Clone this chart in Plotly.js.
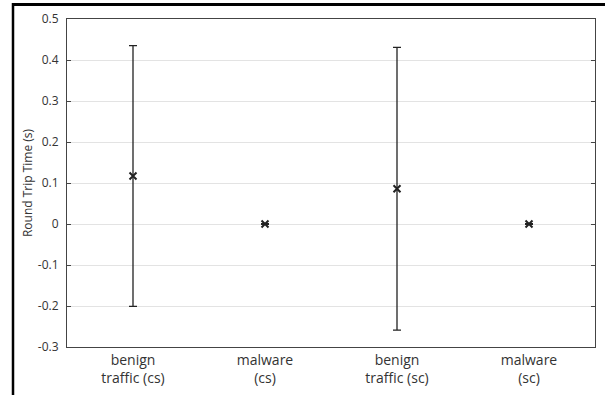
<!DOCTYPE html>
<html>
<head>
<meta charset="utf-8">
<script src="https://cdn.plot.ly/plotly-3.0.1.min.js"></script>
<style>
html,body{margin:0;padding:0;background:#fff;overflow:hidden;}
#chart{width:605px;height:395px;}
</style>
</head>
<body>
<div id="chart"></div>
<script>
const categories = ["benign<br>traffic (cs)", "malware<br>(cs)", "benign<br>traffic (sc)", "malware<br>(sc)"];
const means = [0.117, 0.0, 0.086, 0.0];
const stdDevs = [0.318, 0.001, 0.345, 0.001];
const yTickVals = [-0.3, -0.2, -0.1, 0, 0.1, 0.2, 0.3, 0.4, 0.5];
const yTickText = ["-0.3", "-0.2", "-0.1", "0", "0.1", "0.2", "0.3", "0.4", "0.5"];

const font = "Open Sans, Lato, sans-serif";
const W = 605, H = 395, ML = 67, MR = 10, MT = 19, MB = 48;
const pw = W - ML - MR, ph = H - MT - MB;
const fx = px => (px - ML) / pw;
const fy = py => (H - MB - py) / ph;

const trace = {
  x: categories,
  y: means,
  type: "scatter",
  mode: "markers",
  marker: {symbol: "x-thin", size: 7, color: "#222", line: {width: 2, color: "#222"}},
  error_y: {type: "data", array: stdDevs, visible: true, color: "#222", thickness: 1.3, width: 4},
  hoverinfo: "none"
};
const layout = {
  width: W, height: H,
  margin: {l: ML, r: MR, t: MT, b: MB},
  paper_bgcolor: "#fff", plot_bgcolor: "#fff",
  showlegend: false,
  font: {family: font, color: "#333"},
  xaxis: {
    type: "category", range: [-0.5, 3.5],
    showline: true, mirror: true, linecolor: "#444", linewidth: 1,
    showgrid: false, ticks: "", zeroline: false,
    tickfont: {size: 14, family: font, color: "#333"}
  },
  yaxis: {
    range: [-0.3, 0.5], tickmode: "array", tickvals: yTickVals, ticktext: yTickText,
    showline: true, mirror: "ticks", linecolor: "#444", linewidth: 1,
    ticks: "inside", ticklen: 4, tickcolor: "#444",
    ticklabelstandoff: 5,
    showgrid: true, gridcolor: "#e3e3e3", gridwidth: 1, zeroline: false,
    tickfont: {size: 12, family: font, color: "#333"},
    title: {text: "Round Trip Time (s)", font: {size: 12, family: font, color: "#333"}, standoff: 2}
  },
  shapes: [
    {type: "line", xref: "paper", yref: "paper", x0: fx(13), x1: fx(13), y0: fy(H + 2), y1: fy(3), line: {color: "#000", width: 2.5}},
    {type: "rect", xref: "paper", yref: "paper", x0: fx(12), x1: fx(W + 2), y0: fy(6), y1: fy(3), fillcolor: "#000", line: {width: 0}}
  ]
};
Plotly.newPlot("chart", [trace], layout, {staticPlot: true, displayModeBar: false});
</script>
</body>
</html>
